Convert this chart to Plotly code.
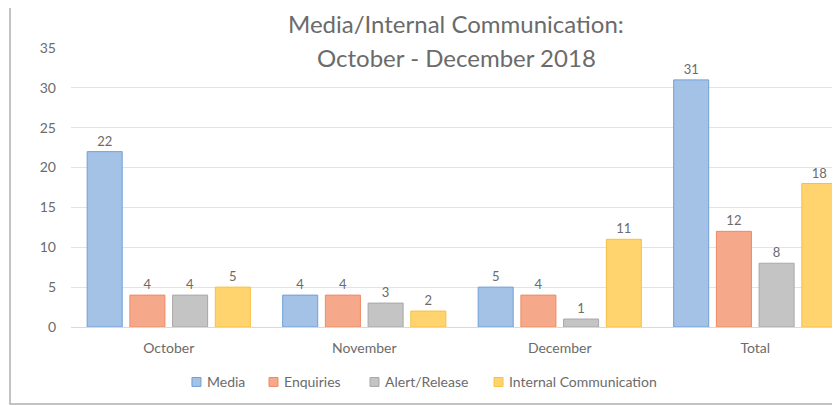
import plotly.graph_objects as go

categories = ["October", "November", "December", "Total"]
series_names = ["Media", "Enquiries", "Alert/Release", "Internal Communication"]
media = [22, 4, 5, 31]
enquiries = [4, 4, 4, 12]
alert_release = [4, 3, 1, 8]
internal_comm = [5, 2, 11, 18]
y_ticks = [0, 5, 10, 15, 20, 25, 30, 35]

fills = ["#a4c2e6", "#f5a98a", "#c4c4c4", "#ffd36e"]
edges = ["#6f9fd6", "#ef8a63", "#a8a8a8", "#f8c040"]
FONT = "Lato, Open Sans, sans-serif"
GRAY = "#6b6b6b"

fig = go.Figure()
for name, vals, fc, ec in zip(series_names, [media, enquiries, alert_release, internal_comm], fills, edges):
    fig.add_trace(go.Bar(
        x=categories, y=vals, name=name,
        marker=dict(color=fc, line=dict(color=ec, width=1)),
        text=[str(v) for v in vals], textposition="outside",
        textfont=dict(family=FONT, size=13, color=GRAY),
        cliponaxis=False, showlegend=False,
    ))

# page body has an 8px margin: plot area lands at window x 71..840, y 48..327
fig.update_layout(
    width=840, height=405,
    margin=dict(l=63, r=8, t=40, b=86),
    paper_bgcolor="white", plot_bgcolor="white",
    barmode="group", bargap=0.126, bargroupgap=0.18,
    font=dict(family=FONT, size=14, color=GRAY),
    xaxis=dict(range=[-0.5, 3.4335], showgrid=False, showline=True, linecolor="#d9d9d9",
               ticks="", ticklabelstandoff=8, tickfont=dict(size=14, color=GRAY)),
    yaxis=dict(range=[0, 35], tickvals=y_ticks, showgrid=True, gridcolor="#e3e3e3",
               zeroline=False, showline=False, ticks="", ticklabelstandoff=14,
               tickfont=dict(size=14, color=GRAY)),
)

# title, two lines
fig.add_annotation(text="Media/Internal Communication:", xref="paper", yref="paper",
                   x=0.5007, y=1.0896, xanchor="center", yanchor="middle", showarrow=False,
                   font=dict(family=FONT, size=24, color=GRAY))
fig.add_annotation(text="October - December 2018", xref="paper", yref="paper",
                   x=0.5007, y=0.9677, xanchor="center", yanchor="middle", showarrow=False,
                   font=dict(family=FONT, size=24, color=GRAY))

# custom legend (small squares like the original)
legend_sq_x = [0.1573, 0.2575, 0.3888, 0.5501]
sq_w = 0.0117
for name, fc, ec, lx in zip(series_names, fills, edges, legend_sq_x):
    fig.add_shape(type="rect", xref="paper", yref="paper",
                  x0=lx, x1=lx + sq_w, y0=-0.213, y1=-0.181,
                  fillcolor=fc, line=dict(color=ec, width=1))
    fig.add_annotation(text=name, xref="paper", yref="paper",
                       x=lx + sq_w + 0.005, y=-0.197, xanchor="left", yanchor="middle",
                       showarrow=False, font=dict(family=FONT, size=14, color=GRAY))

# chart border
fig.add_shape(type="rect", xref="paper", yref="paper",
              x0=-0.0793, x1=1.05, y0=-0.276, y1=1.165,
              line=dict(color="#b0b0b0", width=1.5), layer="below")

fig.write_html("out.html")
